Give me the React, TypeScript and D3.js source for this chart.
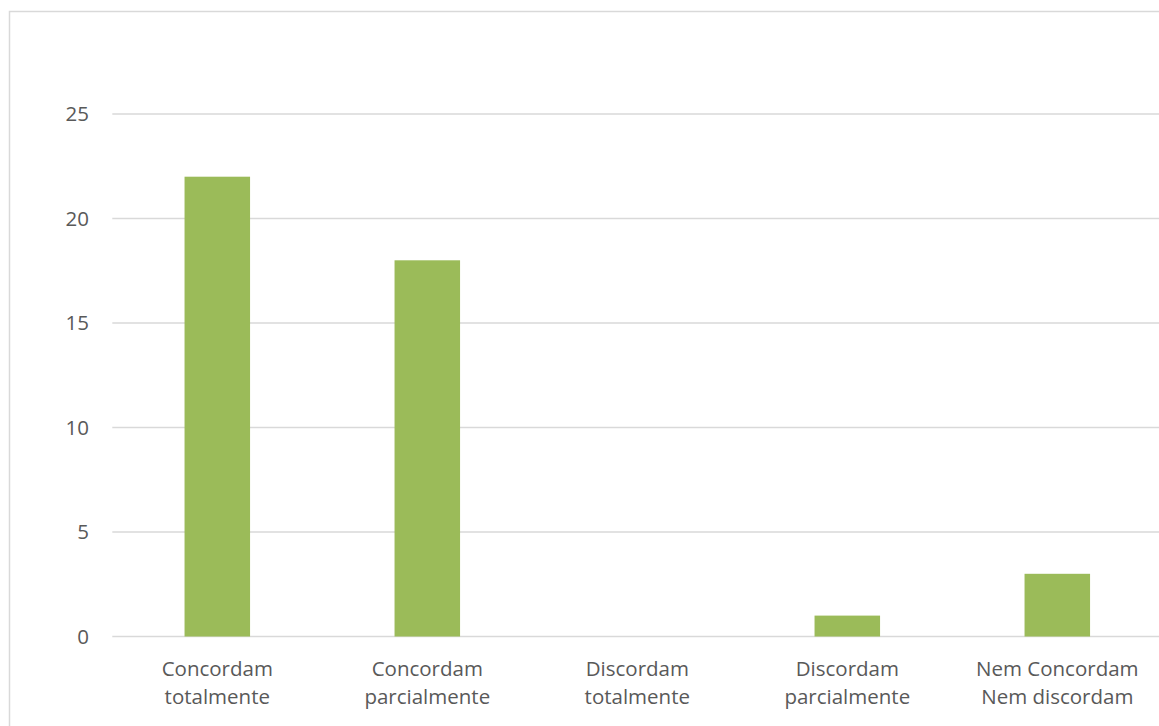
import React from "react";
import * as d3 from "d3";

const categories = [
  ["Concordam", "totalmente"],
  ["Concordam", "parcialmente"],
  ["Discordam", "totalmente"],
  ["Discordam", "parcialmente"],
  ["Nem Concordam", "Nem discordam"],
];
const values = [22, 18, 0, 1, 3];
const yTicks = [0, 5, 10, 15, 20, 25];

export default function App() {
  const W = 1159, H = 726;
  const x0 = 112.3, x1 = 1162.3;
  const y0 = 636.5, y1 = 114;
  const x = d3.scaleBand<number>().domain(d3.range(categories.length)).range([x0, x1]).paddingInner(0.688).paddingOuter(0.344);
  const y = d3.scaleLinear().domain([0, 25]).range([y0, y1]);
  const font = "'Open Sans', sans-serif";
  return (
    <svg width={W} height={H} style={{ position: "absolute", left: 0, top: 0, background: "#fff" }}>
      <rect x={9.5} y={11.5} width={1300} height={900} fill="#fff" stroke="#d9d9d9" strokeWidth={1.5} />
      {yTicks.map((t) => (
        <g key={t}>
          <line x1={x0} x2={W} y1={y(t)} y2={y(t)} stroke="#d9d9d9" strokeWidth={1.3} />
          <text x={89} y={y(t)} dy="0.36em" textAnchor="end" fontFamily={font} fontSize={20.5} fill="#595959">{t}</text>
        </g>
      ))}
      {values.map((v, i) =>
        v > 0 ? (
          <rect key={i} x={x(i)} y={y(v)} width={x.bandwidth()} height={y0 - y(v)} fill="#9bbb59" />
        ) : null
      )}
      {categories.map((c, i) => (
        <text key={i} textAnchor="middle" fontFamily={font} fontSize={20.5} fill="#595959">
          {c.map((l, j) => (
            <tspan key={j} x={(x(i) as number) + x.bandwidth() / 2} y={676 + j * 28}>{l}</tspan>
          ))}
        </text>
      ))}
    </svg>
  );
}
